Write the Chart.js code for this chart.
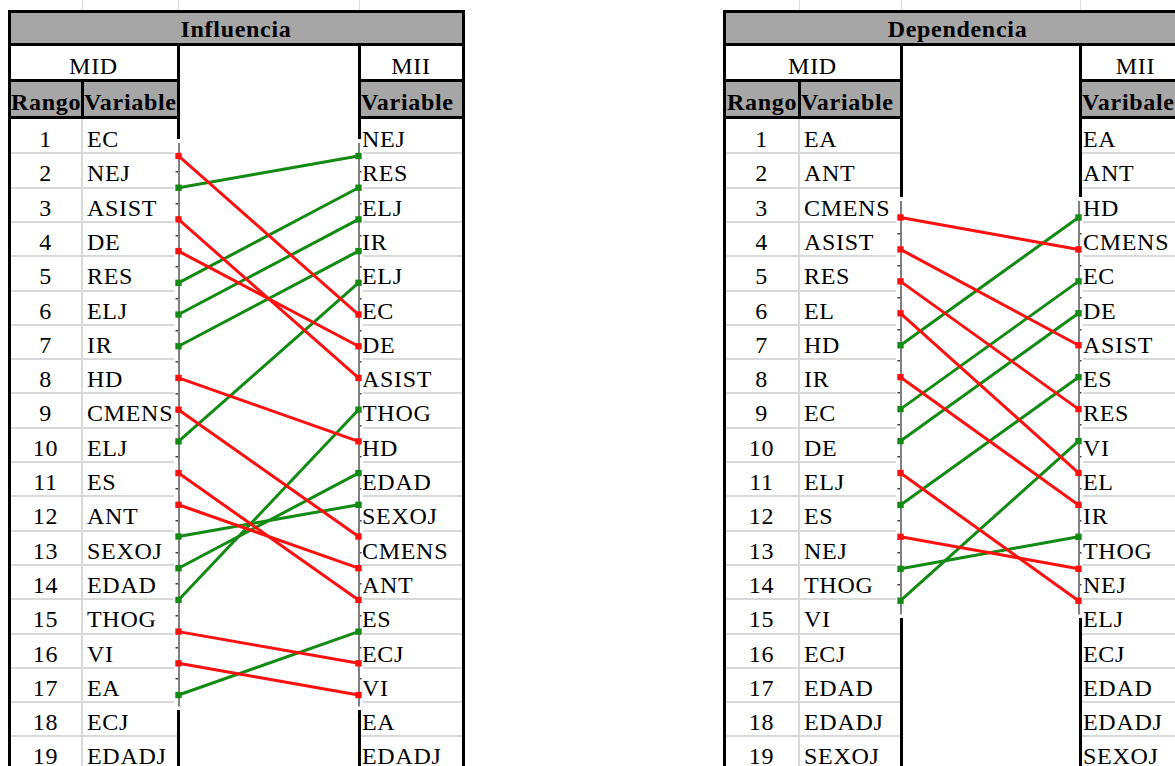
<!DOCTYPE html>
<html>
<head>
<meta charset="utf-8">
<title>Influencia / Dependencia</title>
<script src="https://cdn.jsdelivr.net/npm/chart.js@4.4.0/dist/chart.umd.min.js"></script>
<style>
    html, body {
        margin: 0;
        padding: 0;
        background: #fff;
    }
    body {
        position: relative;
        width: 1175px;
        height: 766px;
        overflow: hidden;
        font-family: "Liberation Serif", "Times New Roman", serif;
        font-size: 24px;
        letter-spacing: 0.7px;
        color: #000;
    }
    canvas {
        position: absolute;
        background: #fff;
    }
</style>
</head>
<body>
<canvas id="influencia"></canvas>
<canvas id="dependencia"></canvas>
<script>
// --- datos ---
const rangos = [1, 2, 3, 4, 5, 6, 7, 8, 9, 10, 11, 12, 13, 14, 15, 16, 17, 18, 19];

// Influencia
const infMid = ["EC", "NEJ", "ASIST", "DE", "RES", "ELJ", "IR", "HD", "CMENS", "ELJ",
    "ES", "ANT", "SEXOJ", "EDAD", "THOG", "VI", "EA", "ECJ", "EDADJ"];
const infMii = ["NEJ", "RES", "ELJ", "IR", "ELJ", "EC", "DE", "ASIST", "THOG", "HD",
    "EDAD", "SEXOJ", "CMENS", "ANT", "ES", "ECJ", "VI", "EA", "EDADJ"];
const infDesde = [1, 2, 3, 4, 5, 6, 7, 8, 9, 10, 11, 12, 13, 14, 15, 16, 17, 18];
const infHasta = [6, 1, 8, 7, 2, 3, 4, 10, 13, 5, 15, 14, 12, 11, 9, 17, 18, 16];

// Dependencia
const depMid = ["EA", "ANT", "CMENS", "ASIST", "RES", "EL", "HD", "IR", "EC", "DE",
    "ELJ", "ES", "NEJ", "THOG", "VI", "ECJ", "EDAD", "EDADJ", "SEXOJ"];
const depMii = ["EA", "ANT", "HD", "CMENS", "EC", "DE", "ASIST", "ES", "RES", "VI",
    "EL", "IR", "THOG", "NEJ", "ELJ", "ECJ", "EDAD", "EDADJ", "SEXOJ"];
const depDesde = [3, 4, 5, 6, 7, 8, 9, 10, 11, 12, 13, 14, 15];
const depHasta = [4, 7, 9, 11, 3, 12, 5, 6, 15, 8, 14, 13, 10];

// --- estilo ---
const GRIS = "#a6a6a6";
const LINEA = "#d9d9d9";
const VERDE = "#138a13";
const ROJO = "#ff1010";
const FILA0 = 119;
const FILA_H = 34.3;

function caja(x, y, w, h, css) {
    const d = document.createElement("div");
    d.style.cssText = `position:absolute;left:${x}px;top:${y}px;width:${w}px;height:${h}px;` + (css || "");
    document.body.appendChild(d);
    return d;
}

function texto(str, x, y, w, h, align, bold, dy, pad) {
    const d = caja(x, y + dy, w, h,
        `line-height:${h}px;text-align:${align};font-weight:${bold ? "bold" : "normal"};` +
        `overflow:hidden;white-space:nowrap;box-sizing:border-box;padding-left:${pad || 0}px;`);
    d.textContent = str;
}

function negro(x, y, w, h) {
    caja(x, y, w, h, "background:#000");
}

function tabla(t) {
    const [x0, xa, xb, xc, xd] = t.cols;
    const fin = 766;

    // rejilla de la hoja por encima de la tabla
    [xa, xb, xc].forEach((x) => caja(x, 0, 1, 11, "background:#dedede"));

    // rellenos grises
    caja(x0, 11, xd - x0, 33, `background:${GRIS}`);
    caja(x0, 80, xb - x0, 38, `background:${GRIS}`);
    caja(xc, 80, xd - xc, 38, `background:${GRIS}`);

    // lineas claras de las filas
    rangos.forEach((r, i) => {
        const y = FILA0 + (i + 1) * FILA_H;
        caja(x0, y - 1, xb - x0, 2, `background:${LINEA}`);
        caja(xc, y - 1, xd - xc, 2, `background:${LINEA}`);
    });
    caja(xa - 1, FILA0, 2, fin - FILA0, `background:${LINEA}`);

    // textos de cabecera
    texto(t.titulo, x0, 11, xd - x0, 33, "center", true, 2);
    texto("MID", x0, 44, xb - x0, 36, "center", false, 4);
    texto("MII", xc, 44, xd - xc, 36, "center", false, 4);
    texto("Rango", x0 + 2, 80, xa - x0 - 3, 38, "center", true, 3);
    texto("Variable", xa + 1, 80, xb - xa - 2, 38, "left", true, 3, 1);
    texto(t.cabMii, xc + 1, 80, xd - xc - 2, 38, "left", true, 3, 1);

    // filas
    rangos.forEach((r, i) => {
        const y = FILA0 + i * FILA_H;
        texto(String(r), x0, y, xa - x0, FILA_H, "center", false, 3);
        texto(t.mid[i], xa + 1, y, xb - xa - 2, FILA_H, "left", false, 3, 4);
        texto(t.mii[i], xc + 1, y, xd - xc - 2, FILA_H, "left", false, 3, 2);
    });

    // bordes gruesos
    negro(x0 - 1.5, 10, 3, fin - 10);
    negro(xd - 1.5, 10, 3, fin - 10);
    negro(x0 - 1.5, 10, xd - x0 + 3, 3);
    negro(x0 - 1.5, 42.5, xd - x0 + 3, 3);
    negro(x0 - 1.5, 78.5, xb - x0 + 3, 3);
    negro(xc - 1.5, 78.5, xd - xc + 3, 3);
    negro(x0 - 1.5, 115.5, xb - x0 + 3, 3);
    negro(xc - 1.5, 115.5, xd - xc + 3, 3);
    negro(xa - 1.5, 78.5, 3, 38);
    negro(xb - 1.5, 42.5, 3, fin - 42.5);
    negro(xc - 1.5, 42.5, 3, fin - 42.5);
}

function grafico(id, desde, hasta, g) {
    const canvas = document.getElementById(id);
    canvas.width = g.right - g.left + 8;
    canvas.height = g.bottom - g.top;
    canvas.style.left = (g.left - 4) + "px";
    canvas.style.top = g.top + "px";

    const datasets = desde.map((d, i) => {
        const color = hasta[i] < d ? VERDE : ROJO;
        return {
            data: [{ x: 0, y: d }, { x: 1, y: hasta[i] }],
            borderColor: color,
            backgroundColor: color,
            borderWidth: 3,
            pointStyle: "rect",
            pointRadius: 4.5,
            pointBorderWidth: 0,
            clip: false,
        };
    });

    const marcas = rangos.map((r) => r + 0.5).filter((v) => v > g.min && v < g.max);
    const eje = (pos) => ({
        type: "linear",
        position: pos,
        reverse: true,
        min: g.min,
        max: g.max,
        afterFit: (s) => { s.width = 4; },
        afterBuildTicks: (s) => { s.ticks = marcas.map((v) => ({ value: v })); },
        ticks: { display: false },
        grid: { drawOnChartArea: false, tickLength: 3, color: "#404040", lineWidth: 1.5 },
        border: { color: "#808080", width: 2 },
    });

    return new Chart(canvas, {
        type: "line",
        data: { datasets: datasets },
        options: {
            responsive: false,
            animation: false,
            events: [],
            devicePixelRatio: 1,
            layout: { padding: 0 },
            plugins: {
                legend: { display: false },
                tooltip: { enabled: false },
            },
            scales: {
                x: { type: "linear", min: 0, max: 1, display: false },
                y: eje("left"),
                y2: eje("right"),
            },
        },
    });
}

tabla({
    titulo: "Influencia",
    cabMii: "Variable",
    cols: [9, 82, 178, 359, 463],
    mid: infMid,
    mii: infMii,
});
tabla({
    titulo: "Dependencia",
    cabMii: "Varibale",
    cols: [724, 799, 901, 1080, 1191],
    mid: depMid,
    mii: depMii,
});

// los graficos van encima de la tabla
document.body.appendChild(document.getElementById("influencia"));
document.body.appendChild(document.getElementById("dependencia"));

grafico("influencia", infDesde, infHasta, { left: 178, right: 359, top: 139, bottom: 710, min: 0.606, max: 18.33 });
grafico("dependencia", depDesde, depHasta, { left: 900, right: 1079, top: 197, bottom: 618, min: 2.5, max: 15.4 });
</script>
</body>
</html>
